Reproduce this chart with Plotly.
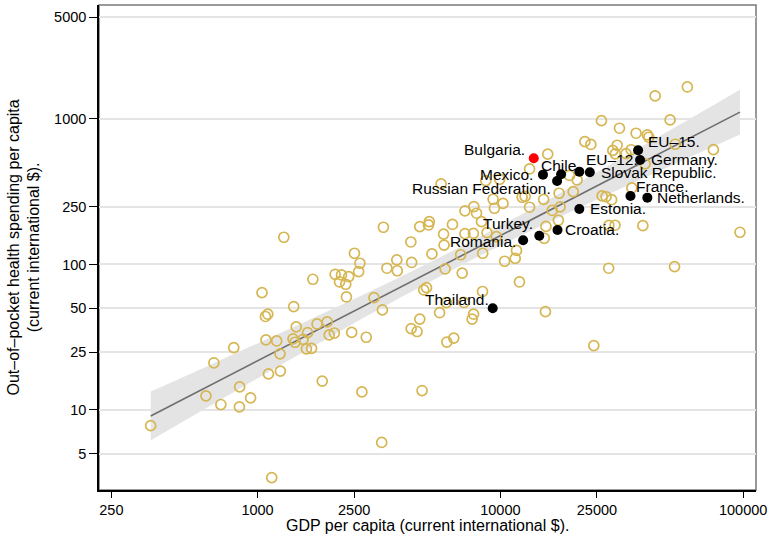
import math
import plotly.graph_objects as go

# open circles: GDP per capita vs out-of-pocket health spending (current intl $)
gdp = [363, 613, 661, 706, 798, 842, 844, 936, 1043, 1078,
       1102, 1083, 1109, 1144, 1199, 1238, 1242, 1283, 1409, 1443,
       1400, 1427, 1541, 1607, 1589, 1669, 1690, 1758, 1847, 1936,
       1973, 2072, 2087, 2217, 2374, 2176, 2308, 2323, 2442, 2507,
       2640, 2608, 2690, 2804, 3017, 3246, 3268, 3299, 3410, 3746,
       3763, 4312, 4280, 4293, 4541, 4658, 4658, 4760, 4836, 4965,
       5097, 5059, 5228, 5622, 5701, 5837, 5864, 5925, 5992, 6020,
       6351, 6429, 6866, 6964, 7082, 7149, 7780, 7980, 7650, 7758,
       7149, 7745, 8365, 8459, 8444, 8710, 8810, 9452, 9631, 10257,
       10413, 11514, 11655, 11990, 12297, 12647, 13193, 13193, 15082, 15166,
       15337, 15411, 15673, 16350, 17458, 17626, 17333, 19273, 20719, 19953,
       22293, 23590, 24262, 26085, 26258, 27258, 28730, 27938, 27990, 29670,
       29060, 29757, 30290, 30952, 32937, 34578, 34802, 36239, 38636, 39446,
       40309, 40879, 43405, 50026, 52189, 52530, 58922, 75430, 97030, 9337,
       9933]
oop = [7.8, 12.5, 21.1, 10.9, 26.8, 10.5, 14.4, 12.1, 64.0, 43.9,
       45.5, 30.3, 17.7, 3.43, 29.8, 24.3, 18.5, 153.8, 51.3, 37.2,
       30.8, 29.2, 30.6, 34.0, 26.3, 26.5, 79.1, 39.0, 15.8, 40.3,
       32.8, 33.8, 85.6, 84.7, 82.5, 75.8, 73.1, 59.8, 34.1, 119.4,
       101.9, 89.2, 13.3, 31.6, 59.1, 5.98, 48.7, 180.2, 94.2, 107.4,
       90.5, 103.2, 142.7, 36.2, 34.6, 42.1, 181.9, 13.6, 66.8, 69.3,
       196.9, 186.8, 118.1, 46.6, 357.5, 161.6, 135.7, 93.1, 54.6, 29.3,
       188.3, 31.2, 116.6, 87.2, 54.8, 233.2, 249.7, 224.9, 42.1, 45.5,
       162.8, 163.4, 196.9, 119.4, 65.2, 376.6, 165.4, 243.4, 155.3, 262.6,
       105.2, 110.0, 124.8, 75.8, 289.6, 293.4, 453.2, 247.3, 279.8, 151.4,
       47.4, 182.5, 573.0, 235.0, 308.5, 248.5, 201.3, 408.9, 380.8, 316.4,
       698.2, 667.8, 27.7, 973.4, 295.7, 292.0, 278.5, 94.2, 185.4, 186.0,
       607.5, 574.8, 659.5, 863.3, 577.5, 614.3, 335.5, 797.6, 184.8, 490.6,
       776.3, 748.6, 1439, 984.3, 96.6, 670, 1659, 615.2, 166.4, 280.6,
       385.0]

# labelled countries / groups
hl_names = ["Mexico", "Chile", "Russian Federation", "EU–12", "Slovak Republic",
            "EU–15", "Germany", "France", "Netherlands", "Estonia",
            "Croatia", "Turkey", "Romania", "Thailand"]
hl_gdp = [14982, 17792, 17131, 21150, 23365, 36931, 37634, 34353, 40309, 21150,
          17197, 14470, 12414, 9302]
hl_oop = [414.1, 416.8, 374.9, 434.2, 430.1, 609.5, 522.7, 295.7, 287.8, 240.7,
          172.6, 157.7, 146.7, 50.0]

bg_name = "Bulgaria"
bg_gdp = 13728
bg_oop = 537

# linear fit (log-log) and its confidence band
fit_gdp = [363, 631, 1000, 1995, 3981, 6855, 12589, 25119, 50119, 97030]
fit_lo = [6.18, 10.56, 16.48, 31.87, 60.6, 98.1, 162.7, 280.3, 475.2, 781.6]
fit_hi = [13.38, 20.25, 28.67, 48.64, 84.0, 132.2, 227.0, 432.5, 838.0, 1587]
line_gdp = [363, 97030]
line_oop = [9.09, 1114]

x_ticks = [250, 1000, 2500, 10000, 25000, 100000]
y_ticks = [5, 10, 25, 50, 100, 250, 1000, 5000]

# label placement: (xanchor, xshift px, yshift px)
label_pos = {"Bulgaria": ("right", -7, 9), "Mexico": ("right", -8, 0),
             "Chile": ("center", 0, 9), "Russian Federation": ("right", -4, -8),
             "EU–12": ("left", 5, 12), "Slovak Republic": ("left", 9, 0),
             "EU–15": ("left", 8, 9), "Germany": ("left", 9, 0),
             "France": ("left", 4, 9), "Netherlands": ("left", 8, 0),
             "Estonia": ("left", 9, 0), "Croatia": ("left", 5, 0),
             "Turkey": ("right", -4, 12), "Romania": ("right", -5, -1),
             "Thailand": ("right", -2, 9)}

FONT = "Liberation Sans, Arial, sans-serif"
GOLD = "rgb(214,182,82)"

fig = go.Figure()
fig.add_trace(go.Scatter(x=fit_gdp, y=fit_hi, mode="lines",
                         line=dict(width=0, shape="spline"), hoverinfo="skip"))
fig.add_trace(go.Scatter(x=fit_gdp, y=fit_lo, mode="lines",
                         line=dict(width=0, shape="spline"),
                         fill="tonexty", fillcolor="rgb(228,228,228)", hoverinfo="skip"))
fig.add_trace(go.Scatter(x=line_gdp, y=line_oop, mode="lines",
                         line=dict(color="rgb(110,110,110)", width=1.6)))
fig.add_trace(go.Scatter(x=gdp, y=oop, mode="markers",
                         marker=dict(symbol="circle-open", size=10, color=GOLD,
                                     line=dict(width=1.7, color=GOLD))))
fig.add_trace(go.Scatter(x=hl_gdp, y=hl_oop, mode="markers",
                         marker=dict(size=10, color="black")))
fig.add_trace(go.Scatter(x=[bg_gdp], y=[bg_oop], mode="markers",
                         marker=dict(size=10, color="red")))

# annotations on log axes take log10 positions
for name, gx, gy in zip(hl_names + [bg_name], hl_gdp + [bg_gdp], hl_oop + [bg_oop]):
    anchor, dx, dy = label_pos[name]
    fig.add_annotation(x=math.log10(gx), y=math.log10(gy), text=name + ".",
                       showarrow=False, xanchor=anchor, yanchor="middle",
                       xshift=dx, yshift=dy,
                       font=dict(family=FONT, size=15.5, color="black"))

fig.update_layout(
    width=772, height=537, autosize=False, showlegend=False,
    margin=dict(l=99, r=11, t=5, b=47),
    plot_bgcolor="white", paper_bgcolor="white",
    font=dict(family=FONT, color="black"),
    xaxis=dict(type="log", range=[2.347, 5.053], tickvals=x_ticks,
               ticktext=[str(v) for v in x_ticks], ticks="outside", ticklen=6,
               tickwidth=1.3, tickcolor="black", showline=True, linecolor="black",
               linewidth=1.5, showgrid=False, zeroline=False,
               ticklabeloverflow="allow", tickfont=dict(size=14.5)),
    yaxis=dict(type="log", range=[0.45, 3.783], tickvals=y_ticks,
               ticktext=[str(v) for v in y_ticks], ticks="outside", ticklen=8,
               tickwidth=1.3, tickcolor="black", showline=True, linecolor="black",
               linewidth=1.5, showgrid=True, gridcolor="rgb(228,228,228)",
               gridwidth=1.5, zeroline=False, tickfont=dict(size=14.5)),
)
fig.add_shape(type="rect", xref="x domain", yref="y domain", x0=0, x1=1, y0=0, y1=1,
              line=dict(color="rgb(120,120,120)", width=1.5), layer="below")
fig.add_annotation(text="GDP per capita (current international $).", xref="paper",
                   yref="paper", x=0.5, y=0, yshift=-35, yanchor="middle",
                   showarrow=False, font=dict(size=16))
fig.add_annotation(text="Out–of–pocket health spending per capita<br>(current international $).",
                   xref="paper", yref="paper", x=0, y=0.5, xshift=-76,
                   xanchor="center", yanchor="middle", textangle=-90,
                   showarrow=False, font=dict(size=16))

# page body has a default 8px margin; drop it so the figure sits at the window corner
fig.write_html("out.html", config={"displayModeBar": False},
               post_script="document.body.style.margin='0';")
